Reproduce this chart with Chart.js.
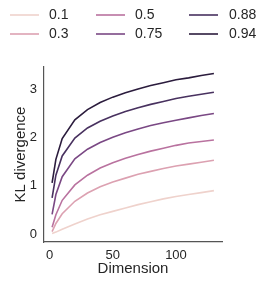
<!DOCTYPE html>
<html>
<head>
<meta charset="utf-8">
<script src="https://cdn.jsdelivr.net/npm/chart.js@4/dist/chart.umd.min.js"></script>
<style>
  html, body { margin: 0; padding: 0; background: #fff; }
  #wrap { width: 266px; height: 282px; }
</style>
</head>
<body>
<div id="wrap"><canvas id="klChart" width="266" height="282"></canvas></div>
<script>
// Dimensões e valores
const dims = [2, 5, 10, 20, 30, 40, 50, 60, 70, 80, 90, 100, 110, 120, 130];
const rhoLabels = ['0.1', '0.3', '0.5', '0.75', '0.88', '0.94'];
const kl01  = [0.01, 0.04, 0.10, 0.21, 0.31, 0.40, 0.47, 0.54, 0.61, 0.67, 0.73, 0.78, 0.82, 0.86, 0.90];
const kl03  = [0.05, 0.22, 0.42, 0.68, 0.85, 0.98, 1.08, 1.16, 1.24, 1.30, 1.36, 1.41, 1.45, 1.49, 1.53];
const kl05  = [0.14, 0.40, 0.70, 1.02, 1.22, 1.37, 1.48, 1.57, 1.65, 1.72, 1.78, 1.84, 1.89, 1.92, 1.95];
const kl075 = [0.41, 0.82, 1.19, 1.56, 1.76, 1.90, 2.01, 2.10, 2.18, 2.25, 2.31, 2.36, 2.41, 2.46, 2.50];
const kl088 = [0.75, 1.22, 1.62, 1.99, 2.20, 2.34, 2.45, 2.54, 2.62, 2.69, 2.75, 2.81, 2.86, 2.90, 2.94];
const kl094 = [1.06, 1.55, 1.98, 2.37, 2.58, 2.73, 2.84, 2.93, 3.01, 3.08, 3.14, 3.20, 3.24, 3.29, 3.33];
const xTicks = [0, 50, 100];
const yTicks = [0, 1, 2, 3];

const series = [kl01, kl03, kl05, kl075, kl088, kl094];
const colors = ['#efd2cc', '#dca1b1', '#b9729f', '#7a4884', '#48315f', '#2b1c3d'];
const fontFamily = '"Liberation Sans", Arial, sans-serif';

const datasets = series.map((vals, i) => ({
  label: rhoLabels[i],
  data: vals.map((v, j) => ({ x: dims[j], y: v })),
  borderColor: colors[i],
  backgroundColor: colors[i],
  borderWidth: 1.6,
  pointRadius: 0,
  tension: 0,
  fill: false
}));

// Legenda em 3 colunas (ordem por coluna)
const gridLegend = {
  id: 'gridLegend',
  afterDraw(chart) {
    const ctx = chart.ctx;
    const cols = [{ line: 10, text: 49 }, { line: 96, text: 135 }, { line: 189, text: 229 }];
    const rows = [15, 34];
    ctx.save();
    ctx.font = '14px ' + fontFamily;
    ctx.textBaseline = 'middle';
    ctx.fillStyle = '#262626';
    chart.data.datasets.forEach((ds, i) => {
      const c = cols[Math.floor(i / 2)];
      const y = rows[i % 2];
      ctx.strokeStyle = ds.borderColor;
      ctx.lineWidth = 1.6;
      ctx.beginPath();
      ctx.moveTo(c.line, y);
      ctx.lineTo(c.line + 29, y);
      ctx.stroke();
      ctx.fillText(ds.label, c.text, y + 0.5);
    });
    ctx.restore();
  }
};

new Chart(document.getElementById('klChart'), {
  type: 'line',
  data: { datasets },
  options: {
    responsive: false,
    animation: false,
    layout: { padding: { top: 67, right: 44, left: 0, bottom: 0 } },
    plugins: { legend: { display: false }, tooltip: { enabled: false } },
    scales: {
      x: {
        type: 'linear',
        min: -4.4,
        max: 136.4,
        grid: { display: false, drawTicks: false },
        border: { display: true, color: '#555', width: 1.2 },
        afterBuildTicks: (s) => { s.ticks = xTicks.map(v => ({ value: v })); },
        afterFit: (s) => { s.height = 40; },
        ticks: {
          color: '#262626',
          padding: 6,
          font: { family: fontFamily, size: 13 }
        },
        title: {
          display: true,
          text: 'Dimension',
          color: '#262626',
          padding: { top: 0, bottom: 4 },
          font: { family: fontFamily, size: 15 }
        }
      },
      y: {
        min: -0.165,
        max: 3.465,
        grid: { display: false, drawTicks: false },
        border: { display: true, color: '#555', width: 1.2 },
        afterBuildTicks: (s) => { s.ticks = yTicks.map(v => ({ value: v })); },
        afterFit: (s) => { s.width = 44; },
        ticks: {
          color: '#262626',
          padding: 7,
          font: { family: fontFamily, size: 13 }
        },
        title: {
          display: true,
          text: 'KL divergence',
          color: '#262626',
          padding: { top: 12, bottom: 0 },
          font: { family: fontFamily, size: 15 }
        }
      }
    }
  },
  plugins: [gridLegend]
});
</script>
</body>
</html>
